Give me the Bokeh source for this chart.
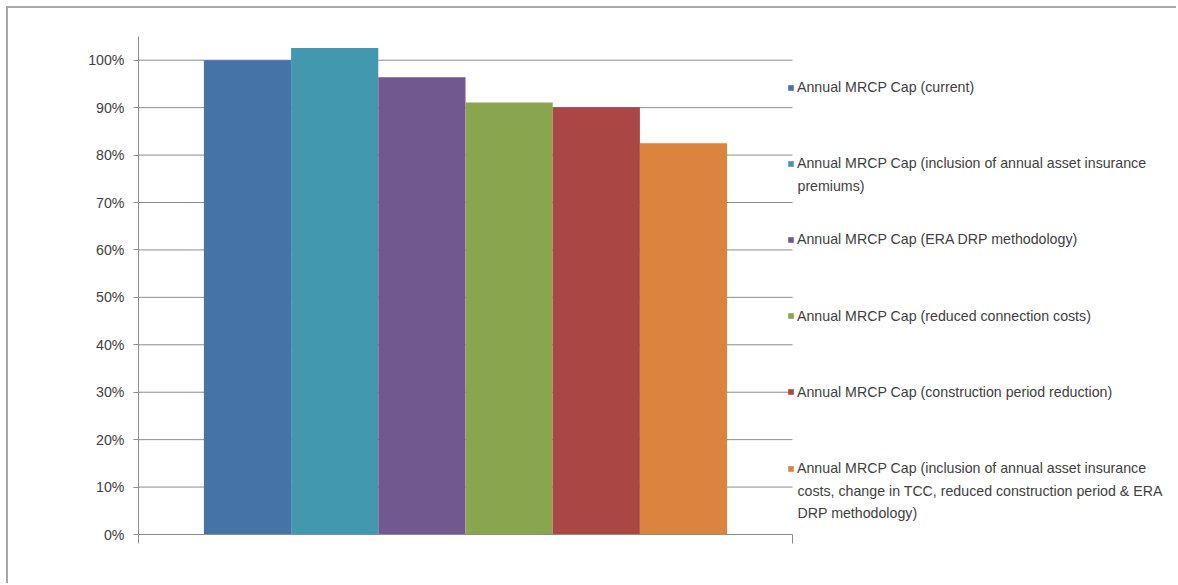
from bokeh.plotting import figure
from bokeh.models import (Range1d, FixedTicker, NumeralTickFormatter, Legend,
                          LegendItem, ColumnDataSource, Label)
from bokeh.embed import file_html
from bokeh.resources import INLINE

# Scenario names (wrapped as shown in the legend) and their MRCP cap relative to current
scenarios = [
    "Annual MRCP Cap (current)",
    "Annual MRCP Cap (inclusion of annual asset insurance\npremiums)",
    "Annual MRCP Cap (ERA DRP methodology)",
    "Annual MRCP Cap (reduced connection costs)",
    "Annual MRCP Cap (construction period reduction)",
    "Annual MRCP Cap (inclusion of annual asset insurance\ncosts, change in TCC, reduced construction period & ERA\nDRP methodology)",
]
cap_share = [1.000, 1.026, 0.964, 0.911, 0.901, 0.825]
colors = ["#4572A7", "#4198AF", "#71588F", "#89A54E", "#AA4643", "#DB843D"]
y_ticks = [0.0, 0.1, 0.2, 0.3, 0.4, 0.5, 0.6, 0.7, 0.8, 0.9, 1.0]

TEXT = "#404040"
AXIS = "#8c8c8c"
FONT = "Liberation Sans"
FS = "14.2px"

n = len(cap_share)
pad = 0.75
xs = [i + 0.5 for i in range(n)]
src = ColumnDataSource(dict(x=xs, top=cap_share, color=colors))

# canvas / frame geometry (px); the frame runs to the right edge so the
# legend column sits inside it, while axis and grid stop at the bars' area
W, H = 1170, 577
LEFT, TOP, BOTTOM = 130, 28, 51
frame_w = W - LEFT
plot_w = 654
x_end = -pad + (n + 2 * pad) * frame_w / plot_w

p = figure(width=W, height=H, output_backend="svg", toolbar_location=None,
           x_range=Range1d(-pad, x_end), y_range=Range1d(0, 1.05),
           min_border_left=LEFT, min_border_right=0,
           min_border_top=TOP, min_border_bottom=BOTTOM)
p.margin = (6, 0, 0, 6)
p.styles = {"border-top": "2px solid #a6a6a6", "border-left": "2px solid #a6a6a6"}
p.outline_line_color = None
p.background_fill_color = "white"
p.border_fill_color = "white"
p.grid.visible = False

# horizontal gridlines spanning the category area only
grid_y = y_ticks[1:]
p.segment(x0=[-pad] * len(grid_y), x1=[n + pad] * len(grid_y),
          y0=grid_y, y1=grid_y, line_color=AXIS, line_width=1)

bars = p.vbar(x="x", top="top", width=1.0, source=src,
              fill_color="color", line_color=None)

# y axis: percentage ticks
ya = p.yaxis[0]
ya.ticker = FixedTicker(ticks=y_ticks)
ya.formatter = NumeralTickFormatter(format="0%")
ya.axis_line_color = AXIS
ya.major_tick_line_color = AXIS
ya.major_tick_out = 5
ya.major_tick_in = 0
ya.minor_tick_line_color = None
ya.major_label_text_font = FONT
ya.major_label_text_font_size = FS
ya.major_label_text_color = TEXT
ya.major_label_standoff = 9

# x axis: one category, marked only at its two boundaries
xa = p.xaxis[0]
xa.ticker = FixedTicker(ticks=[], minor_ticks=[-pad, n + pad])
xa.bounds = (-pad, n + pad)
xa.axis_line_color = AXIS
xa.major_tick_line_color = None
xa.minor_tick_line_color = AXIS
xa.minor_tick_out = 9
xa.minor_tick_in = 0

# legend entries in evenly spaced slots; the marker sits on the first line
FRAME_H = H - TOP - BOTTOM
LINE = 22
first_slot, slot_step = 87 - 8 - TOP, 76.2   # from frame top
glyph_x = 649
text_x = glyph_x + 7 + 3
for i, label in enumerate(scenarios):
    lines = label.split("\n")
    yc = first_slot + i * slot_step
    vy = FRAME_H - (yc + LINE / 2)
    leg = Legend(items=[LegendItem(label=lines[0], renderers=[bars], index=i)],
                 location=(glyph_x, vy), orientation="vertical",
                 padding=0, margin=0, spacing=0,
                 glyph_width=7, glyph_height=7, label_standoff=3,
                 label_height=LINE,
                 label_text_font=FONT, label_text_font_size=FS,
                 label_text_color=TEXT,
                 border_line_color=None, background_fill_alpha=0)
    p.add_layout(leg, "center")
    for k, extra in enumerate(lines[1:], start=1):
        p.add_layout(Label(x=text_x, y=FRAME_H - (yc + k * LINE),
                           x_units="screen", y_units="screen", text=extra,
                           text_font=FONT, text_font_size=FS,
                           text_color=TEXT, text_baseline="middle",
                           text_align="left"))

open("out.html", "w").write(file_html(p, INLINE))
